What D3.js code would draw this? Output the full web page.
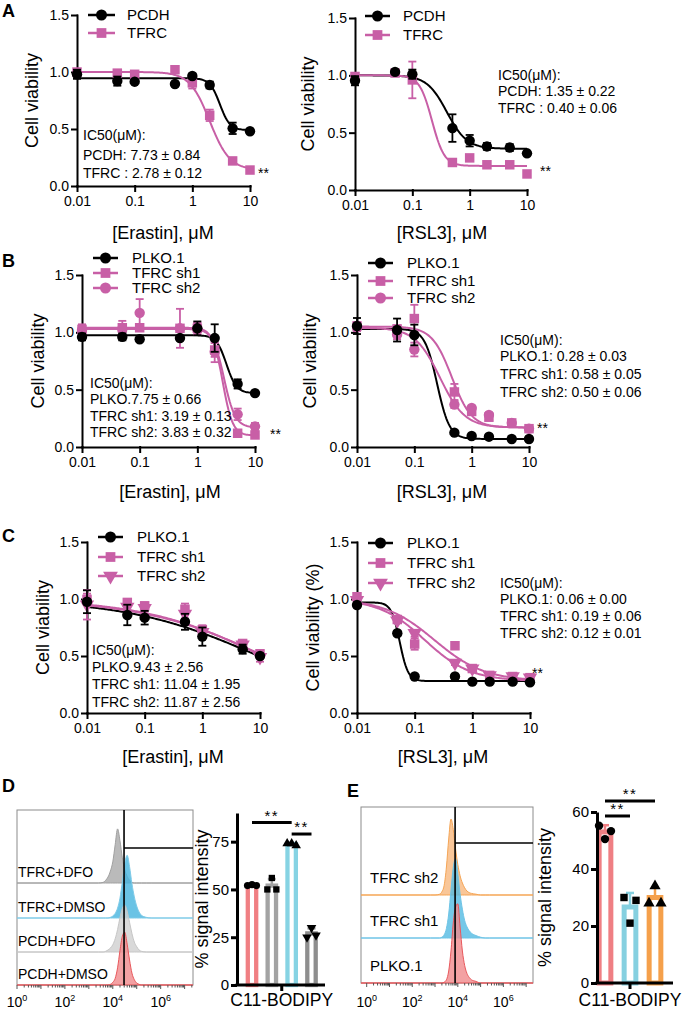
<!DOCTYPE html>
<html>
<head>
<meta charset="utf-8">
<script src="https://cdn.jsdelivr.net/npm/d3@7"></script>
<style>
  body { margin: 0; background: #fff; }
  svg { display: block; }
</style>
</head>
<body>
<script>
// ---------- DATA ----------
const pink = '#c85fa6';
const dosesAB = [0.01, 0.05, 0.1, 0.5, 1, 2, 5, 10];
const dosesCEr = [0.01, 0.05, 0.1, 0.5, 1, 5, 10];
const xTicksDose = [0.01, 0.1, 1, 10];
const yTicksDose = [0, 0.5, 1, 1.5];

// fit params are [top, bottom, IC50, hill]
// A - Erastin
const aErPCDH = [0.98, 0.92, 0.915, 0.895, 0.965, 0.886, 0.506, 0.48];
const aErPCDHsd = [0.04, 0.04, 0.01, 0.01, 0.02, 0.03, 0.05, 0.01];
const aErPCDHfit = [0.945, 0.49, 3.0, 5];
const aErTFRC = [1.0, 0.99, 0.98, 1.02, 0.905, 0.62, 0.22, 0.14];
const aErTFRCsd = [0.02, 0.02, 0.02, 0.03, 0.05, 0.05, 0.02, 0.02];
const aErTFRCfit = [1.0, 0.14, 2.0, 2.5];
const aErIC50 = ['IC50(μM):', 'PCDH: 7.73 ± 0.84', 'TFRC : 2.78 ± 0.12'];
// A - RSL3
const aRsPCDH = [0.953, 1.03, 1.01, 0.54, 0.43, 0.38, 0.37, 0.32];
const aRsPCDHsd = [0.04, 0.01, 0.04, 0.12, 0.05, 0.03, 0.03, 0.01];
const aRsPCDHfit = [1.0, 0.36, 0.4, 2.5];
const aRsTFRC = [0.99, 1.02, 0.96, 0.24, 0.28, 0.22, 0.22, 0.14];
const aRsTFRCsd = [0.02, 0.01, 0.16, 0.02, 0.02, 0.01, 0.01, 0.01];
const aRsTFRCfit = [1.0, 0.21, 0.22, 4];
const aRsIC50 = ['IC50(μM):', 'PCDH: 1.35 ± 0.22', 'TFRC : 0.40 ± 0.06'];
// B - Erastin
const bErPLKO = [0.96, 0.96, 0.94, 0.95, 1.035, 0.95, 0.55, 0.47];
const bErPLKOsd = [0.03, 0.03, 0.01, 0.01, 0.06, 0.12, 0.04, 0.01];
const bErPLKOfit = [0.975, 0.47, 3.2, 5];
const bErSh1 = [1.026, 1.04, 1.04, 1.035, 1.035, 0.846, 0.12, 0.105];
const bErSh1sd = [0.03, 0.06, 0.02, 0.02, 0.05, 0.06, 0.02, 0.02];
const bErSh1fit = [1.04, 0.10, 2.75, 5];
const bErSh2 = [1.02, 1.03, 1.17, 1.035, 1.03, 0.83, 0.285, 0.18];
const bErSh2sd = [0.05, 0.03, 0.12, 0.17, 0.05, 0.09, 0.05, 0.03];
const bErSh2fit = [1.03, 0.17, 2.9, 4.5];
const bErIC50 = ['IC50(μM):', 'PLKO.7.75 ± 0.66', 'TFRC sh1: 3.19 ± 0.13', 'TFRC sh2: 3.83 ± 0.32'];
// B - RSL3
const bRsPLKO = [1.055, 1.02, 0.977, 0.125, 0.096, 0.09, 0.07, 0.07];
const bRsPLKOsd = [0.07, 0.1, 0.09, 0.01, 0.01, 0.01, 0.01, 0.01];
const bRsPLKOfit = [1.03, 0.07, 0.25, 4];
const bRsSh1 = [1.055, 1.03, 1.12, 0.48, 0.31, 0.26, 0.21, 0.16];
const bRsSh1sd = [0.03, 0.03, 0.12, 0.07, 0.03, 0.03, 0.02, 0.02];
const bRsSh1fit = [1.05, 0.17, 0.45, 2.5];
const bRsSh2 = [1.05, 0.98, 0.85, 0.37, 0.34, 0.28, 0.21, 0.16];
const bRsSh2sd = [0.04, 0.04, 0.06, 0.03, 0.02, 0.02, 0.02, 0.02];
const bRsSh2fit = [1.04, 0.17, 0.28, 2];
const bRsIC50 = ['IC50(μM):', 'PLKO.1: 0.28 ± 0.03', 'TFRC sh1: 0.58 ± 0.05', 'TFRC sh2: 0.50 ± 0.06'];
// C - Erastin
const cErPLKO = [0.976, 0.86, 0.836, 0.80, 0.67, 0.56, 0.50];
const cErPLKOsd = [0.1, 0.09, 0.06, 0.07, 0.08, 0.04, 0.02];
const cErPLKOfit = [1.0, 0, 9.43, 0.38];
const cErSh1 = [0.997, 0.97, 0.94, 0.91, 0.73, 0.61, 0.52];
const cErSh1sd = [0.05, 0.03, 0.03, 0.05, 0.04, 0.03, 0.02];
const cErSh1fit = [1.0, 0, 11.0, 0.42];
const cErSh2 = [0.95, 0.93, 0.92, 0.87, 0.71, 0.60, 0.49];
const cErSh2sd = [0.13, 0.03, 0.03, 0.04, 0.04, 0.03, 0.04];
const cErSh2fit = [1.0, 0, 11.9, 0.40];
const cErIC50 = ['IC50(μM):', 'PLKO.9.43 ± 2.56', 'TFRC sh1: 11.04 ± 1.95', 'TFRC sh2: 11.87 ± 2.56'];
// C - RSL3
const cRsPLKO = [0.947, 0.70, 0.32, 0.32, 0.275, 0.275, 0.275, 0.27];
const cRsPLKOsd = [0.02, 0.02, 0.01, 0.01, 0.01, 0.01, 0.01, 0.01];
const cRsPLKOfit = [0.97, 0.28, 0.055, 6];
const cRsSh1 = [1.02, 0.82, 0.605, 0.59, 0.39, 0.33, 0.32, 0.31];
const cRsSh1sd = [0.03, 0.02, 0.05, 0.03, 0.02, 0.02, 0.02, 0.02];
const cRsSh1fit = [1.0, 0.28, 0.22, 1.0];
const cRsSh2 = [0.99, 0.81, 0.70, 0.44, 0.39, 0.33, 0.32, 0.31];
const cRsSh2sd = [0.03, 0.02, 0.03, 0.02, 0.02, 0.02, 0.02, 0.02];
const cRsSh2fit = [1.0, 0.28, 0.15, 1.1];
const cRsIC50 = ['IC50(μM):', 'PLKO.1: 0.06 ± 0.00', 'TFRC sh1: 0.19 ± 0.06', 'TFRC sh2: 0.12 ± 0.01'];

// D / E flow histograms: log10 intensity grid and normalised counts
const histLogD = [3.4, 3.6, 3.7, 3.8, 3.9, 4.0, 4.1, 4.2, 4.3, 4.4, 4.5, 4.6, 4.7, 4.8, 4.9, 5.0, 5.1, 5.2, 5.4, 5.6];
const histD_TFRC_DFO = [0, 1, 4, 9, 18, 32, 58, 82, 64, 38, 20, 10, 4, 1, 0, 0, 0, 0, 0, 0];
const histD_TFRC_DMSO = [0, 0, 0, 0, 1, 3, 7, 15, 30, 55, 82, 95, 78, 52, 32, 18, 9, 4, 1, 0];
const histD_PCDH_DFO = [0, 0, 1, 3, 6, 11, 20, 34, 52, 66, 71, 62, 45, 28, 15, 8, 3, 1, 0, 0];
const histD_PCDH_DMSO = [0, 0, 0, 0, 1, 4, 10, 26, 52, 74, 80, 62, 38, 18, 8, 3, 1, 0, 0, 0];
const histLabelsD = ['TFRC+DFO', 'TFRC+DMSO', 'PCDH+DFO', 'PCDH+DMSO'];

const histLogE = [2.8, 3.0, 3.2, 3.3, 3.4, 3.5, 3.6, 3.7, 3.8, 3.9, 4.0, 4.1, 4.2, 4.3, 4.4, 4.5, 4.6, 4.8, 5.0, 5.2, 5.4];
const histE_sh2 = [0, 0, 1, 4, 12, 35, 70, 95, 82, 58, 38, 24, 15, 9, 5, 3, 2, 1, 0, 0, 0];
const histE_sh1 = [0, 0, 0, 1, 4, 12, 30, 60, 88, 99, 80, 55, 36, 22, 14, 9, 6, 3, 1, 0, 0];
const histE_PLKO = [0, 0, 0, 0, 1, 4, 15, 40, 75, 95, 99, 70, 40, 22, 12, 7, 4, 2, 0, 0, 0];
const histLabelsE = ['TFRC sh2', 'TFRC sh1', 'PLKO.1'];
const histTickDecades = [0, 2, 4, 6];

// D / E bar charts (% signal intensity, replicates left/centre/right)
const barD_PCDH_DMSO = [52, 52.5, 52];
const barD_PCDH_DFO = [50, 56, 50];
const barD_TFRC_DMSO = [74, 74, 73];
const barD_TFRC_DFO = [25, 30, 26];
const barD_ticks = [0, 25, 50, 75];
const barD_sig = [[0, 2, 85], [2, 3, 79]];
const barE_PLKO = [55.2, 50.5, 53.3];
const barE_sh1 = [30, 21, 29];
const barE_sh2 = [28, 34, 28];
const barE_ticks = [0, 20, 40, 60];
const barE_sig = [[0, 1, 58.6], [0, 2, 63.9]];

// ---------- DRAWING ----------
const FONT = '"Liberation Sans", Arial, Helvetica, sans-serif';
const svg = d3.select('body').append('svg')
  .attr('width', 685).attr('height', 1011)
  .attr('font-family', FONT);

function sym(shape, size) {
  const t = { circle: d3.symbolCircle, square: d3.symbolSquare, tri: d3.symbolTriangle, triDown: d3.symbolTriangle }[shape];
  return d3.symbol(t, size)();
}
function symTransform(shape, x, y) {
  return `translate(${x},${y})` + (shape === 'triDown' ? ' rotate(180)' : '');
}

const curveX = d3.range(0, 151).map(i => Math.pow(10, -2 + i * 3 / 150));

function drawDose(p) {
  const g = svg.append('g');
  const x = d3.scaleLog().domain([0.01, 10]).range([p.x0, p.x1]);
  const y = d3.scaleLinear().domain([0, 1.5]).range([p.yBot, p.yTop]);

  g.append('g').attr('transform', `translate(0,${p.yBot})`)
    .call(d3.axisBottom(x).tickValues(xTicksDose).tickFormat(d => String(d))
      .tickSize(5).tickSizeOuter(0).tickPadding(5));
  g.append('g').attr('transform', `translate(${p.x0},0)`)
    .call(d3.axisLeft(y).tickValues(yTicksDose).tickFormat(d3.format('.1f'))
      .tickSize(5).tickSizeOuter(0).tickPadding(3));
  g.selectAll('.domain, .tick line').attr('stroke', '#000').attr('stroke-width', 2).attr('stroke-linecap', 'square');
  g.selectAll('.tick text').attr('font-size', 14).attr('fill', '#000').attr('font-family', FONT);

  // fit curves
  p.series.forEach(s => {
    const [top, bot, ic50, hill] = s.fit;
    const f = d => bot + (top - bot) / (1 + Math.pow(d / ic50, hill));
    g.append('path').datum(curveX)
      .attr('d', d3.line().x(d => x(d)).y(d => y(f(d))))
      .attr('fill', 'none').attr('stroke', s.color).attr('stroke-width', 2);
  });

  // error bars + markers (black series on top)
  p.series.slice().reverse().forEach(s => {
    const pts = p.doses.map((d, i) => ({ d, v: s.vals[i], e: s.sd[i] }));
    const eg = g.append('g').attr('stroke', s.color).attr('stroke-width', 1.8);
    pts.forEach(pt => {
      const cx = x(pt.d);
      eg.append('line').attr('x1', cx).attr('x2', cx).attr('y1', y(pt.v - pt.e)).attr('y2', y(pt.v + pt.e));
      [pt.v - pt.e, pt.v + pt.e].forEach(v => {
        eg.append('line').attr('x1', cx - 4).attr('x2', cx + 4).attr('y1', y(v)).attr('y2', y(v));
      });
    });
    g.selectAll(null).data(pts).join('path')
      .attr('d', sym(s.shape, s.shape === 'circle' ? 85 : 90))
      .attr('transform', d => symTransform(s.shape, x(d.d), y(d.v)))
      .attr('fill', s.color);
  });

  // legend
  p.series.forEach((s, i) => {
    const ly = p.legend.y[i];
    g.append('line').attr('x1', p.legend.x[0]).attr('x2', p.legend.x[1]).attr('y1', ly).attr('y2', ly)
      .attr('stroke', s.color).attr('stroke-width', 2.5);
    g.append('path').attr('d', sym(s.shape, 95))
      .attr('transform', symTransform(s.shape, (p.legend.x[0] + p.legend.x[1]) / 2, ly))
      .attr('fill', s.color);
    g.append('text').attr('x', p.legend.tx).attr('y', ly).attr('dy', '0.35em')
      .attr('font-size', 15).text(s.name);
  });

  // IC50 annotation
  p.ic50.lines.forEach((t, i) => {
    g.append('text').attr('x', p.ic50.x).attr('y', p.ic50.y[i]).attr('font-size', 14).text(t);
  });
  if (p.star) {
    g.append('text').attr('x', p.star[0]).attr('y', p.star[1]).attr('font-size', 14).text('**');
  }

  // titles
  g.append('text').attr('x', p.xTitleX).attr('y', p.xTitleY).attr('dy', '0.35em')
    .attr('text-anchor', 'middle').attr('font-size', 18).text(p.xTitle);
  g.append('text').attr('transform', `translate(${p.yTitleX},${(p.yTop + p.yBot) / 2}) rotate(-90)`)
    .attr('dy', '0.35em').attr('text-anchor', 'middle').attr('font-size', 18).text(p.yTitle);
}

function drawHist(h) {
  const g = svg.append('g');
  const x = d3.scaleLinear().domain(h.domain).range([h.left, h.right]);
  const yh = d3.scaleLinear().domain([0, 100]).range([0, h.peakPx]);

  g.append('rect').attr('x', h.left).attr('y', h.top)
    .attr('width', h.right - h.left).attr('height', h.bottom - h.top)
    .attr('fill', '#fff').attr('stroke', '#8c8c8c').attr('stroke-width', 1);

  h.samples.forEach((s, i) => {
    const base = h.baselines[i];
    const pts = [[h.domain[0], 0], ...h.grid.map((v, k) => [v, s.counts[k]]), [h.domain[1], 0]];
    g.append('path').datum(pts)
      .attr('d', d3.area().x(d => x(d[0])).y0(base).y1(d => base - yh(d[1])).curve(d3.curveMonotoneX))
      .attr('fill', s.fill).attr('fill-opacity', 0.8)
      .attr('stroke', s.stroke).attr('stroke-width', 1);
  });
  h.samples.forEach((s, i) => {
    g.append('text').attr('x', h.labelX).attr('y', h.baselines[i] - h.labelUp)
      .attr('font-size', h.labelSize).text(s.name);
  });

  // gate
  g.append('line').attr('x1', x(h.gate)).attr('x2', x(h.gate)).attr('y1', h.top).attr('y2', h.bottom)
    .attr('stroke', '#000').attr('stroke-width', 1.6);
  g.append('line').attr('x1', x(h.gate)).attr('x2', h.right).attr('y1', h.gateY).attr('y2', h.gateY)
    .attr('stroke', '#000').attr('stroke-width', 1.6);

  // log ticks
  const tg = g.append('g').attr('stroke', '#555').attr('stroke-width', 1);
  d3.range(0, 8).forEach(e => {
    d3.range(1, 10).forEach(k => {
      const v = e + Math.log10(k);
      if (v < h.domain[0] || v > h.domain[1]) return;
      tg.append('line').attr('x1', x(v)).attr('x2', x(v))
        .attr('y1', h.bottom).attr('y2', h.bottom + (k === 1 ? 4 : 2.5));
    });
  });
  histTickDecades.forEach(e => {
    const t = g.append('text').attr('x', x(e)).attr('y', h.tickY).attr('text-anchor', 'middle').attr('font-size', 14);
    t.append('tspan').text('10');
    t.append('tspan').attr('dy', -6).attr('font-size', 9).text(String(e));
  });
}

function drawBars(b) {
  const g = svg.append('g');
  const y = d3.scaleLinear().domain([0, b.yMax]).range([b.y0, b.yTop]);
  const x = d3.scalePoint().domain(d3.range(b.groups.length)).range(b.centers);

  b.groups.forEach((vals, i) => {
    const m = d3.mean(vals), sd = d3.deviation(vals);
    const cx = x(i);
    g.append('rect').attr('x', cx - b.barW / 2).attr('y', y(m))
      .attr('width', b.barW).attr('height', b.y0 - y(m))
      .attr('fill', '#fff').attr('stroke', b.colors[i]).attr('stroke-width', b.strokeW);
    g.append('line').attr('x1', cx).attr('x2', cx).attr('y1', y(m)).attr('y2', y(m + sd))
      .attr('stroke', b.colors[i]).attr('stroke-width', 2.5);
    g.append('line').attr('x1', cx - 4).attr('x2', cx + 4).attr('y1', y(m + sd)).attr('y2', y(m + sd))
      .attr('stroke', b.colors[i]).attr('stroke-width', 2.5);
  });
  b.groups.forEach((vals, i) => {
    vals.forEach((v, k) => {
      g.append('path').attr('d', sym(b.shapes[i], b.symSize))
        .attr('transform', symTransform(b.shapes[i], x(i) + (k - 1) * b.jitter, y(v)))
        .attr('fill', '#000');
    });
  });

  // axes
  g.append('g').attr('transform', `translate(${b.axisX},0)`)
    .call(d3.axisLeft(y).tickValues(b.ticks).tickSize(6).tickSizeOuter(0).tickPadding(2))
    .call(a => a.selectAll('.domain, .tick line').attr('stroke', '#000').attr('stroke-width', 3))
    .call(a => a.selectAll('.tick text').attr('font-size', 15).attr('fill', '#000').attr('font-family', FONT));
  g.append('line').attr('x1', b.axisX - 1.5).attr('x2', b.axisRight).attr('y1', b.y0).attr('y2', b.y0)
    .attr('stroke', '#000').attr('stroke-width', 3);
  const mid = (b.centers[0] + b.centers[1]) / 2;
  g.append('line').attr('x1', mid).attr('x2', mid).attr('y1', b.y0).attr('y2', b.y0 + 6)
    .attr('stroke', '#000').attr('stroke-width', 3);

  // significance
  b.sig.forEach(([i, j, lvl]) => {
    g.append('line').attr('x1', x(i)).attr('x2', x(j)).attr('y1', y(lvl)).attr('y2', y(lvl))
      .attr('stroke', '#000').attr('stroke-width', 3);
    g.append('text').attr('x', (x(i) + x(j)) / 2).attr('y', y(lvl) - 2)
      .attr('text-anchor', 'middle').attr('font-size', 15).attr('letter-spacing', 1.5).text('**');
  });

  g.append('text').attr('transform', `translate(${b.yTitleX},${(b.y0 + b.yTop) / 2}) rotate(-90)`)
    .attr('dy', '0.35em').attr('text-anchor', 'middle').attr('font-size', 18).text('% signal intensity');
  g.append('text').attr('x', mid).attr('y', 1006).attr('text-anchor', 'middle')
    .attr('font-size', 17.5).text('C11-BODIPY');
}

// ---------- LAYOUT ----------
const dosePanels = [
  { x0: 77, x1: 250, yTop: 15, yBot: 186, doses: dosesAB,
    xTitle: '[Erastin], μM', xTitleX: 163, xTitleY: 233, yTitle: 'Cell viability', yTitleX: 32,
    series: [
      { name: 'PCDH', vals: aErPCDH, sd: aErPCDHsd, fit: aErPCDHfit, color: '#000', shape: 'circle' },
      { name: 'TFRC', vals: aErTFRC, sd: aErTFRCsd, fit: aErTFRCfit, color: pink, shape: 'square' }],
    legend: { x: [88, 115], y: [15, 33], tx: 127 },
    ic50: { x: 83, y: [140, 160, 178], lines: aErIC50 }, star: [258, 178] },
  { x0: 355, x1: 527, yTop: 18, yBot: 190, doses: dosesAB,
    xTitle: '[RSL3], μM', xTitleX: 442, xTitleY: 233, yTitle: 'Cell viability', yTitleX: 308,
    series: [
      { name: 'PCDH', vals: aRsPCDH, sd: aRsPCDHsd, fit: aRsPCDHfit, color: '#000', shape: 'circle' },
      { name: 'TFRC', vals: aRsTFRC, sd: aRsTFRCsd, fit: aRsTFRCfit, color: pink, shape: 'square' }],
    legend: { x: [365, 390], y: [16, 35], tx: 403 },
    ic50: { x: 498, y: [80, 96, 113], lines: aRsIC50 }, star: [540, 176] },
  { x0: 82, x1: 255, yTop: 275, yBot: 447, doses: dosesAB,
    xTitle: '[Erastin], μM', xTitleX: 170, xTitleY: 492, yTitle: 'Cell viability', yTitleX: 38,
    series: [
      { name: 'PLKO.1', vals: bErPLKO, sd: bErPLKOsd, fit: bErPLKOfit, color: '#000', shape: 'circle' },
      { name: 'TFRC sh1', vals: bErSh1, sd: bErSh1sd, fit: bErSh1fit, color: pink, shape: 'square' },
      { name: 'TFRC sh2', vals: bErSh2, sd: bErSh2sd, fit: bErSh2fit, color: pink, shape: 'circle' }],
    legend: { x: [93, 118], y: [258, 273, 288], tx: 132 },
    ic50: { x: 90, y: [388, 404, 421, 437], lines: bErIC50 }, star: [270, 439] },
  { x0: 357, x1: 529, yTop: 275, yBot: 447, doses: dosesAB,
    xTitle: '[RSL3], μM', xTitleX: 442, xTitleY: 492, yTitle: 'Cell viability', yTitleX: 310,
    series: [
      { name: 'PLKO.1', vals: bRsPLKO, sd: bRsPLKOsd, fit: bRsPLKOfit, color: '#000', shape: 'circle' },
      { name: 'TFRC sh1', vals: bRsSh1, sd: bRsSh1sd, fit: bRsSh1fit, color: pink, shape: 'square' },
      { name: 'TFRC sh2', vals: bRsSh2, sd: bRsSh2sd, fit: bRsSh2fit, color: pink, shape: 'circle' }],
    legend: { x: [368, 393], y: [263, 281, 298], tx: 407 },
    ic50: { x: 500, y: [345, 361, 379, 397], lines: bRsIC50 }, star: [537, 433] },
  { x0: 87, x1: 260, yTop: 542, yBot: 713, doses: dosesCEr,
    xTitle: '[Erastin], μM', xTitleX: 173, xTitleY: 757, yTitle: 'Cell viability', yTitleX: 43,
    series: [
      { name: 'PLKO.1', vals: cErPLKO, sd: cErPLKOsd, fit: cErPLKOfit, color: '#000', shape: 'circle' },
      { name: 'TFRC sh1', vals: cErSh1, sd: cErSh1sd, fit: cErSh1fit, color: pink, shape: 'square' },
      { name: 'TFRC sh2', vals: cErSh2, sd: cErSh2sd, fit: cErSh2fit, color: pink, shape: 'triDown' }],
    legend: { x: [98, 123], y: [537, 557, 576], tx: 137 },
    ic50: { x: 92, y: [655, 672, 689, 707], lines: cErIC50 }, star: null },
  { x0: 357, x1: 530, yTop: 542, yBot: 713, doses: dosesAB,
    xTitle: '[RSL3], μM', xTitleX: 443, xTitleY: 757, yTitle: 'Cell viability (%)', yTitleX: 313,
    series: [
      { name: 'PLKO.1', vals: cRsPLKO, sd: cRsPLKOsd, fit: cRsPLKOfit, color: '#000', shape: 'circle' },
      { name: 'TFRC sh1', vals: cRsSh1, sd: cRsSh1sd, fit: cRsSh1fit, color: pink, shape: 'square' },
      { name: 'TFRC sh2', vals: cRsSh2, sd: cRsSh2sd, fit: cRsSh2fit, color: pink, shape: 'triDown' }],
    legend: { x: [368, 393], y: [543, 563, 583], tx: 407 },
    ic50: { x: 500, y: [588, 604, 621, 638], lines: cRsIC50 }, star: [532, 678] }
];
dosePanels.forEach(drawDose);

drawHist({
  left: 17, right: 193, top: 810, bottom: 985, domain: [0, 7.35], peakPx: 66,
  grid: histLogD, baselines: [883, 918, 952, 985], gate: 4.47, gateY: 848,
  labelX: 18, labelUp: 6, labelSize: 14, tickY: 1007,
  samples: [
    { name: histLabelsD[0], counts: histD_TFRC_DFO, fill: '#a9a9a9', stroke: '#a0a0a0' },
    { name: histLabelsD[1], counts: histD_TFRC_DMSO, fill: '#45b4de', stroke: '#7fcbe8' },
    { name: histLabelsD[2], counts: histD_PCDH_DFO, fill: '#cfcfcf', stroke: '#c6c6c6' },
    { name: histLabelsD[3], counts: histD_PCDH_DMSO, fill: '#f08a8c', stroke: '#e8585c' }]
});
drawHist({
  left: 361, right: 533, top: 807, bottom: 983, domain: [-0.25, 7.3], peakPx: 80,
  grid: histLogE, baselines: [895, 938, 983], gate: 3.88, gateY: 843,
  labelX: 370, labelUp: 12, labelSize: 15, tickY: 1007,
  samples: [
    { name: histLabelsE[0], counts: histE_sh2, fill: '#f8b87e', stroke: '#f5a555' },
    { name: histLabelsE[1], counts: histE_sh1, fill: '#52bae2', stroke: '#6ec4e6' },
    { name: histLabelsE[2], counts: histE_PLKO, fill: '#f08a8c', stroke: '#e8585c' }]
});

drawBars({
  axisX: 237, axisRight: 325, y0: 985, yTop: 813, yMax: 90, ticks: barD_ticks,
  centers: [252, 311.5], barW: 8.4, strokeW: 4.3, jitter: 4.5, symSize: 40,
  groups: [barD_PCDH_DMSO, barD_PCDH_DFO, barD_TFRC_DMSO, barD_TFRC_DFO],
  colors: ['#f07f83', '#a3a3a3', '#86d3e3', '#8e8e8e'],
  shapes: ['circle', 'square', 'tri', 'triDown'],
  sig: barD_sig, yTitleX: 202
});
drawBars({
  axisX: 597, axisRight: 673, y0: 983, yTop: 812, yMax: 60, ticks: barE_ticks,
  centers: [605, 655], barW: 11.7, strokeW: 5, jitter: 6, symSize: 55,
  groups: [barE_PLKO, barE_sh1, barE_sh2],
  colors: ['#ef7f83', '#86d0e0', '#f5a04b'],
  shapes: ['circle', 'square', 'tri'],
  sig: barE_sig, yTitleX: 545
});

// panel letters
[['A', 2, 17], ['B', 2, 267], ['C', 2, 542], ['D', 2, 792], ['E', 347, 797]].forEach(([t, lx, ly]) => {
  svg.append('text').attr('x', lx).attr('y', ly).attr('font-size', 18).attr('font-weight', 'bold').text(t);
});
</script>
</body>
</html>
